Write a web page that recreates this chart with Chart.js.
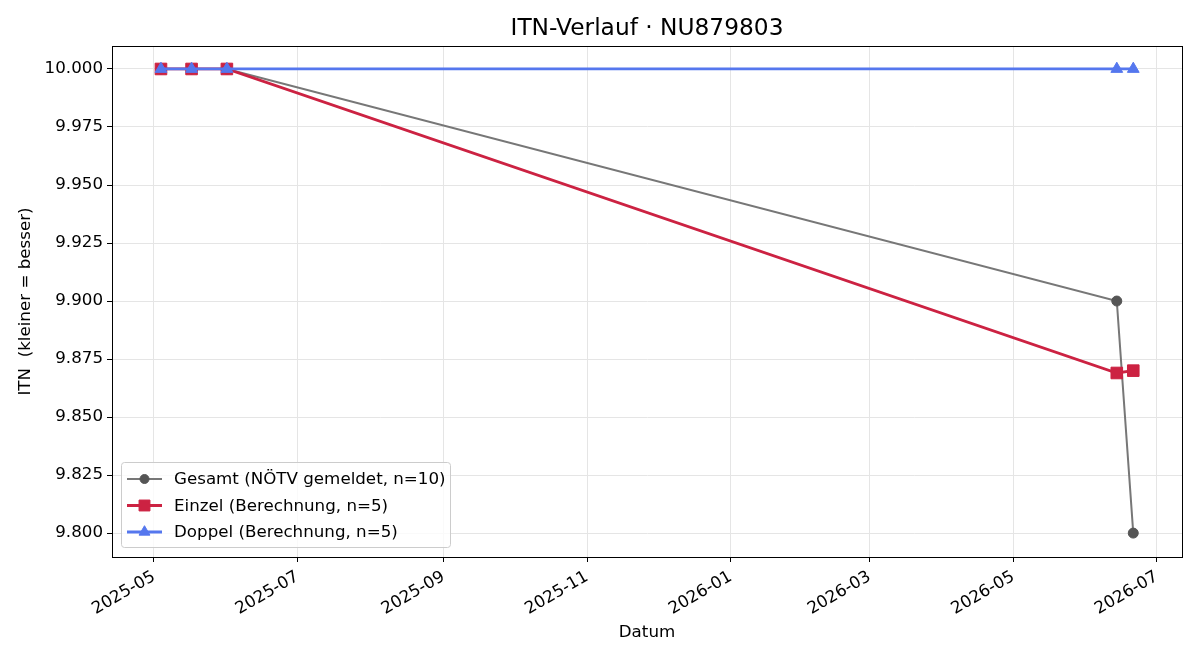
<!DOCTYPE html>
<html>
<head>
<meta charset="utf-8">
<script src="https://cdn.jsdelivr.net/npm/chart.js@4.4.1/dist/chart.umd.min.js"></script>
<style>
  html, body { margin: 0; padding: 0; background: #fff; }
  #wrap { width: 1200px; height: 660px; }
</style>
</head>
<body>
<div id="wrap"><canvas id="itnChart" width="1200" height="660"></canvas></div>
<script>
// ITN history data
const gesamtDates = ['2025-05-04', '2025-05-17', '2025-06-01', '2026-06-14', '2026-06-21'];
const gesamtValues = [10.0, 10.0, 10.0, 9.9, 9.8];
const einzelDates = ['2025-05-04', '2025-05-17', '2025-06-01', '2026-06-14', '2026-06-21'];
const einzelValues = [10.0, 10.0, 10.0, 9.869, 9.870];
const doppelDates = ['2025-05-04', '2025-05-17', '2025-06-01', '2026-06-14', '2026-06-21'];
const doppelValues = [10.0, 10.0, 10.0, 10.0, 10.0];
const xTickDates = ['2025-05-01', '2025-07-01', '2025-09-01', '2025-11-01', '2026-01-01', '2026-03-01', '2026-05-01', '2026-07-01'];
const yTickValues = [9.800, 9.825, 9.850, 9.875, 9.900, 9.925, 9.950, 9.975, 10.000];

const DAY = 86400000;
const toDay = s => Date.parse(s) / DAY;
const toPoints = (dates, values) => dates.map((d, i) => ({ x: toDay(d), y: values[i] }));

const FONT = 'DejaVu Sans';
const FS = 16.7;
const TITLE = 'ITN-Verlauf · NU879803';
const colors = {
    gesamt: '#777777',
    gesamtPoint: '#555555',
    einzel: '#cc2242',
    doppel: '#5577ee'
};

const series = [
    { label: 'Gesamt (NÖTV gemeldet, n=10)', line: colors.gesamt, point: colors.gesamtPoint, style: 'circle', width: 2, radius: 5 },
    { label: 'Einzel (Berechnung, n=5)', line: colors.einzel, point: colors.einzel, style: 'rect', width: 2.8, radius: 8.2 },
    { label: 'Doppel (Berechnung, n=5)', line: colors.doppel, point: colors.doppel, style: 'triangle', width: 2.8, radius: 6.8 }
];

// title, frame + legend box drawn like the original figure
const framePlugin = {
    id: 'frame',
    afterDraw(chart) {
        const { ctx, chartArea: a } = chart;
        ctx.save();
        ctx.fillStyle = '#000';
        ctx.font = '23.3px "' + FONT + '"';
        ctx.textAlign = 'center';
        ctx.textBaseline = 'middle';
        ctx.fillText(TITLE, (a.left + a.right) / 2, 29);
        ctx.textAlign = 'left';

        ctx.strokeStyle = '#000';
        ctx.lineWidth = 1;
        ctx.strokeRect(a.left + 0.5, a.top + 0.5, a.right - a.left, a.bottom - a.top);

        // legend
        const bx = a.left + 9, by = a.bottom - 95, bw = 329, bh = 85;
        ctx.fillStyle = 'rgba(255,255,255,0.8)';
        ctx.strokeStyle = '#cccccc';
        ctx.beginPath();
        ctx.roundRect(bx + 0.5, by + 0.5, bw, bh, 3);
        ctx.fill();
        ctx.stroke();
        ctx.font = FS + 'px "' + FONT + '"';
        series.forEach((s, i) => {
            const y = by + 17 + i * 26.5;
            ctx.strokeStyle = s.line;
            ctx.lineWidth = s.width;
            ctx.beginPath();
            ctx.moveTo(bx + 6, y);
            ctx.lineTo(bx + 41, y);
            ctx.stroke();
            ctx.fillStyle = s.point;
            ctx.strokeStyle = s.point;
            ctx.lineWidth = 1;
            Chart.helpers.drawPoint(ctx, { pointStyle: s.style, radius: s.radius - 0.5, rotation: 0, borderWidth: 1 }, bx + 23.5, y);
            ctx.fillStyle = '#000';
            ctx.fillText(s.label, bx + 53, y + 1);
        });
        ctx.restore();
    }
};

const ctx = document.getElementById('itnChart');
new Chart(ctx, {
    type: 'line',
    data: {
        datasets: [
            { data: toPoints(gesamtDates, gesamtValues), order: 3 },
            { data: toPoints(einzelDates, einzelValues), order: 2 },
            { data: toPoints(doppelDates, doppelValues), order: 1 }
        ].map((d, i) => Object.assign(d, {
            label: series[i].label,
            borderColor: series[i].line,
            backgroundColor: series[i].point,
            pointBackgroundColor: series[i].point,
            pointBorderColor: series[i].point,
            borderWidth: series[i].width,
            pointStyle: series[i].style,
            pointRadius: series[i].radius,
            pointBorderWidth: 1,
            tension: 0
        }))
    },
    options: {
        responsive: false,
        animation: false,
        layout: { padding: { left: 0, right: 18, top: 46, bottom: 0 } },
        plugins: {
            legend: { display: false },
            tooltip: { enabled: false },
            title: { display: false }
        },
        scales: {
            x: {
                type: 'linear',
                min: toDay('2025-05-01') - 17.8,
                max: toDay('2025-05-01') + 436.7,
                afterBuildTicks(scale) {
                    scale.ticks = xTickDates.map(d => ({ value: toDay(d) }));
                },
                afterFit(scale) { scale.height = 103; },
                ticks: {
                    color: '#000',
                    font: { family: FONT, size: FS },
                    minRotation: 30,
                    maxRotation: 30,
                    padding: 5,
                    callback: v => new Date(v * DAY).toISOString().slice(0, 7)
                },
                grid: { color: '#e5e5e5', tickColor: '#000', tickLength: 5 },
                border: { color: '#000' },
                title: {
                    display: true,
                    text: 'Datum',
                    color: '#000',
                    font: { family: FONT, size: FS, lineHeight: 1.2 },
                    padding: { top: 0, bottom: 17 }
                }
            },
            y: {
                min: 9.7897,
                max: 10.0099,
                afterBuildTicks(scale) {
                    scale.ticks = yTickValues.map(v => ({ value: v }));
                },
                afterFit(scale) { scale.width = 112; },
                ticks: {
                    color: '#000',
                    font: { family: FONT, size: FS },
                    padding: 4,
                    callback: v => v.toFixed(3)
                },
                grid: { color: '#e5e5e5', tickColor: '#000', tickLength: 5 },
                border: { color: '#000' },
                title: {
                    display: true,
                    text: 'ITN  (kleiner = besser)',
                    color: '#000',
                    font: { family: FONT, size: FS, lineHeight: 1.2 },
                    padding: { top: 16, bottom: 0 }
                }
            }
        }
    },
    plugins: [framePlugin]
});
</script>
</body>
</html>
